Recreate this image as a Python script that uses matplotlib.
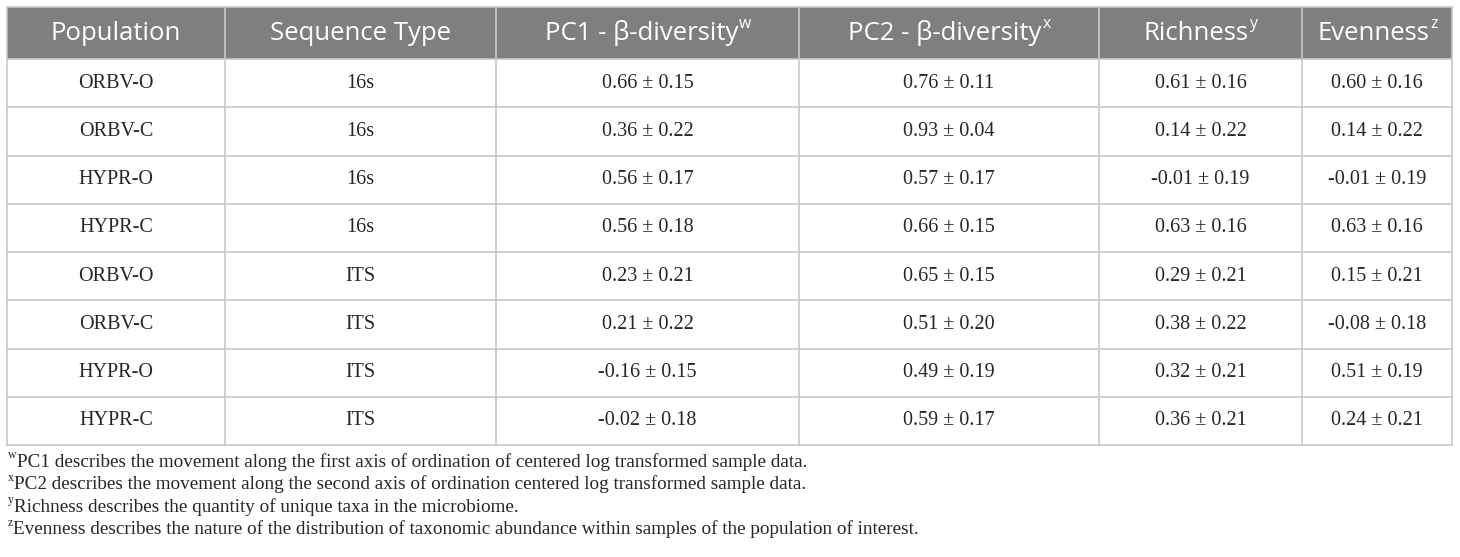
import matplotlib
matplotlib.use("Agg")
import matplotlib.pyplot as plt
from matplotlib.patches import Rectangle

W, H = 1460, 557

headers = ["Population", "Sequence Type", "PC1 - β-diversity", "PC2 - β-diversity", "Richness", "Evenness"]
header_sups = ["", "", "w", "x", "y", "z"]

population = ["ORBV-O", "ORBV-C", "HYPR-O", "HYPR-C", "ORBV-O", "ORBV-C", "HYPR-O", "HYPR-C"]
seq_type = ["16s", "16s", "16s", "16s", "ITS", "ITS", "ITS", "ITS"]
pc1 = ["0.66 ± 0.15", "0.36 ± 0.22", "0.56 ± 0.17", "0.56 ± 0.18",
       "0.23 ± 0.21", "0.21 ± 0.22", "-0.16 ± 0.15", "-0.02 ± 0.18"]
pc2 = ["0.76 ± 0.11", "0.93 ± 0.04", "0.57 ± 0.17", "0.66 ± 0.15",
       "0.65 ± 0.15", "0.51 ± 0.20", "0.49 ± 0.19", "0.59 ± 0.17"]
richness = ["0.61 ± 0.16", "0.14 ± 0.22", "-0.01 ± 0.19", "0.63 ± 0.16",
            "0.29 ± 0.21", "0.38 ± 0.22", "0.32 ± 0.21", "0.36 ± 0.21"]
evenness = ["0.60 ± 0.16", "0.14 ± 0.22", "-0.01 ± 0.19", "0.63 ± 0.16",
            "0.15 ± 0.21", "-0.08 ± 0.18", "0.51 ± 0.19", "0.24 ± 0.21"]

footnote_sups = ["w", "x", "y", "z"]
footnotes = [
    "PC1 describes the movement along the first axis of ordination of centered log transformed sample data.",
    "PC2 describes the movement along the second axis of ordination centered log transformed sample data.",
    "Richness describes the quantity of unique taxa in the microbiome.",
    "Evenness describes the nature of the distribution of taxonomic abundance within samples of the population of interest.",
]

columns = [population, seq_type, pc1, pc2, richness, evenness]

# layout (pixels)
col_edges = [7, 225, 496, 799, 1099, 1302, 1452]
top, header_h, row_h = 7, 52, 48.25
head_col = "#7f7f7f"
line_col = "#c8c8c8"
text_col = "#262626"
head_font = "Open Sans"
body_font = "Liberation Serif"
head_size = 18.5
body_size = 14.5
note_size = 13.8

fig = plt.figure(figsize=(W / 100, H / 100), dpi=100)
ax = fig.add_axes([0, 0, 1, 1])
ax.set_xlim(0, W)
ax.set_ylim(H, 0)
ax.axis("off")
renderer = fig.canvas.get_renderer()


def width_of(txt, **kw):
    t = ax.text(0, 0, txt, **kw)
    w = t.get_window_extent(renderer).width
    t.remove()
    return w


def text_with_sup(x, y, main, sup, size, family, color, ha="center", sup_first=False):
    sup_size = size * 0.62
    wm = width_of(main, fontsize=size, family=family)
    ws = width_of(sup, fontsize=sup_size, family=family) if sup else 0
    total = wm + ws
    x0 = x - total / 2 if ha == "center" else x
    if sup_first:
        ax.text(x0, y - size * 0.5, sup, fontsize=sup_size, family=family, color=color,
                ha="left", va="center")
        ax.text(x0 + ws, y, main, fontsize=size, family=family, color=color, ha="left", va="center")
    else:
        ax.text(x0, y, main, fontsize=size, family=family, color=color, ha="left", va="center")
        if sup:
            ax.text(x0 + wm + 1, y - size * 0.5, sup, fontsize=sup_size, family=family, color=color,
                    ha="left", va="center")


n_rows = len(population)
bottom = top + header_h + n_rows * row_h

# header band
ax.add_patch(Rectangle((col_edges[0], top), col_edges[-1] - col_edges[0], header_h,
                       facecolor=head_col, edgecolor="none"))
# grid lines
for i in range(n_rows + 1):
    y = top + header_h + i * row_h
    ax.plot([col_edges[0], col_edges[-1]], [y, y], color=line_col, lw=1.2)
for x in col_edges:
    ax.plot([x, x], [top, bottom], color=line_col, lw=1.2)
ax.plot([col_edges[0], col_edges[-1]], [top, top], color=line_col, lw=1.2)

# header text
for j, (h, s) in enumerate(zip(headers, header_sups)):
    xc = (col_edges[j] + col_edges[j + 1]) / 2
    text_with_sup(xc, top + header_h / 2, h, s, head_size, head_font, "white")

# body
for j, col in enumerate(columns):
    xc = (col_edges[j] + col_edges[j + 1]) / 2
    for i, val in enumerate(col):
        yc = top + header_h + (i + 0.5) * row_h
        ax.text(xc, yc, val, fontsize=body_size, family=body_font, color=text_col,
                ha="center", va="center")

# footnotes
for k, (s, note) in enumerate(zip(footnote_sups, footnotes)):
    y = bottom + 17 + k * 22.5
    text_with_sup(col_edges[0] + 1, y, note, s, note_size, body_font, text_col, ha="left", sup_first=True)

fig.savefig("out.png", dpi=100)
